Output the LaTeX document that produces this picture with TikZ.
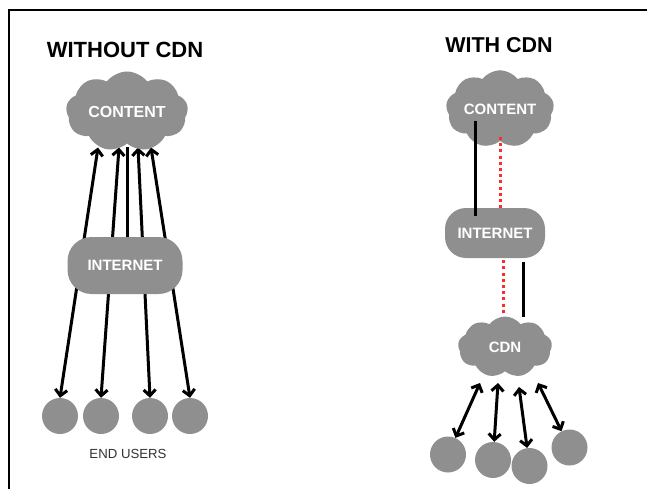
\documentclass[tikz,border=0pt]{standalone}
\usepackage{fontspec}
\setmainfont{Liberation Sans}
\usetikzlibrary{shapes.symbols,arrows.meta,calc}
\definecolor{cloudgray}{RGB}{143,143,143}
\definecolor{dotred}{RGB}{250,45,45}
\definecolor{labelgray}{RGB}{50,50,50}
\pgfdeclarelayer{bg}\pgfsetlayers{bg,main}
\begin{document}
\begin{tikzpicture}[x=1pt,y=-1pt,
  cloudnode/.style={cloud, cloud puffs=9, cloud puff arc=105, fill=cloudgray, draw=none,
    inner sep=0pt, text=white, font=\bfseries\fontsize{15}{16}\selectfont},
  pill/.style={rectangle, rounded corners=21pt, fill=cloudgray, draw=none, inner sep=0pt,
    text=white, font=\bfseries\fontsize{15}{16}\selectfont},
  user/.style={circle, fill=cloudgray, draw=none, minimum size=36pt, inner sep=0pt},
  link/.style={line width=3pt, {Straight Barb[length=6pt,width=12pt]}-{Straight Barb[length=6pt,width=12pt]}},
  plain/.style={line width=3pt},
  redline/.style={line width=3pt, dotred, dash pattern=on 3pt off 3.2pt},
  title/.style={font=\bfseries\fontsize{22}{24}\selectfont},
  framel/.style={line width=2.5pt}]
\useasboundingbox (0,0) rectangle (647,489);
\draw[framel] (9,489) -- (9,10) -- (647,10);

% titles
\node[title] (t1) at (125,50) {WITHOUT CDN};
\node[title, font=\bfseries\fontsize{21.5}{23}\selectfont] (t2) at (499,45.5) {WITH CDN};

% ---- left: without CDN
\node[cloudnode, minimum width=122pt, minimum height=73pt, aspect=1.67,
      font=\bfseries\fontsize{16}{17}\selectfont] (contL) at (127,111.5) {CONTENT};
\node[pill, minimum width=115pt, minimum height=57pt, rounded corners=24pt] (netL) at (125,265.5) {INTERNET};
\node[user] (u1) at (60,416) {};
\node[user] (u2) at (101,416) {};
\node[user] (u3) at (150,416) {};
\node[user] (u4) at (190,416) {};
\node[font=\fontsize{13.2}{14}\selectfont, text=labelgray] (eu) at (128,454) {END USERS};

\begin{pgfonlayer}{bg}
\draw[link] ($(contL.center)+(-29,36)$) -- (u1.north);
\draw[link] ($(contL.center)+(-8,36)$) -- (u2.north);
\draw[plain] ($(contL.center)+(0.5,36)$) -- ($(netL.north)+(2.5,0)$);
\draw[link] ($(contL.center)+(11,36)$) -- (u3.north);
\draw[link] ($(contL.center)+(24,36)$) -- (u4.north);
\end{pgfonlayer}

% ---- right: with CDN
\node[cloudnode, minimum width=108pt, minimum height=68pt, aspect=1.6] (contR) at (500,109) {CONTENT};
\node[pill, minimum width=100pt, minimum height=50pt] (netR) at (495,233) {INTERNET};
\node[cloudnode, minimum width=94pt, minimum height=61pt, aspect=1.55] (cdn) at (505,347) {CDN};
\node[user] (v1) at (448,454.5) {};
\node[user] (v2) at (493,460) {};
\node[user] (v3) at (529.5,466) {};
\node[user] (v4) at (569.5,447.5) {};

\draw[plain] ($(contR.center)+(-25,12)$) -- ($(netR.north)+(-20,8)$);
\draw[redline] ($(contR.center)+(0,28)$) -- ($(netR.north)+(5,0)$);
\draw[redline] ($(netR.south)+(8,2)$) -- ($(cdn.center)+(-2,-32)$);
\draw[plain] ($(netR.south)+(28,4)$) -- ($(cdn.center)+(18,-30)$);

\draw[link] ($(cdn.center)+(-25,36)$) -- (v1);
\draw[link] ($(cdn.center)+(-7,36)$) -- (v2);
\draw[link] ($(cdn.center)+(14,40)$) -- (v3);
\draw[link] ($(cdn.center)+(33,36)$) -- (v4);
\end{tikzpicture}
\end{document}
